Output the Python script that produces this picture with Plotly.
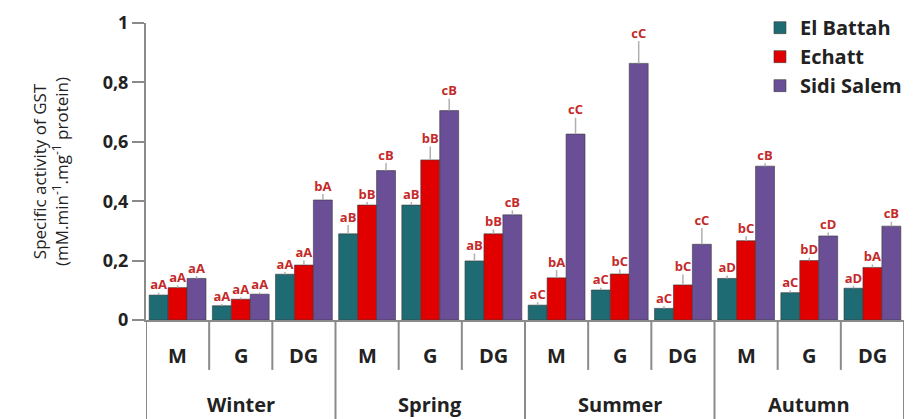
import plotly.graph_objects as go

seasons = ["Winter", "Spring", "Summer", "Autumn"]
tissues = ["M", "G", "DG"]

el_battah = [0.084, 0.048, 0.154, 0.290, 0.387, 0.199, 0.050, 0.101, 0.039, 0.140, 0.092, 0.107]
echatt = [0.109, 0.070, 0.185, 0.387, 0.539, 0.290, 0.142, 0.155, 0.118, 0.267, 0.200, 0.177]
sidi_salem = [0.140, 0.087, 0.404, 0.503, 0.705, 0.354, 0.626, 0.864, 0.255, 0.518, 0.283, 0.316]

err_el_battah = [0.008, 0.006, 0.008, 0.030, 0.010, 0.025, 0.010, 0.008, 0.008, 0.010, 0.008, 0.008]
err_echatt = [0.008, 0.006, 0.015, 0.010, 0.045, 0.015, 0.026, 0.015, 0.035, 0.015, 0.010, 0.010]
err_sidi_salem = [0.008, 0.006, 0.020, 0.026, 0.040, 0.015, 0.055, 0.075, 0.055, 0.010, 0.012, 0.015]

let_el_battah = ["aA", "aA", "aA", "aB", "aB", "aB", "aC", "aC", "aC", "aD", "aC", "aD"]
let_echatt = ["aA", "aA", "aA", "bB", "bB", "bB", "bA", "bC", "bC", "bC", "bD", "bA"]
let_sidi_salem = ["aA", "aA", "bA", "cB", "cB", "cB", "cC", "cC", "cC", "cB", "cD", "cB"]

series = [
    ("El Battah", el_battah, err_el_battah, let_el_battah, "#1f6b74"),
    ("Echatt", echatt, err_echatt, let_echatt, "#e00000"),
    ("Sidi Salem", sidi_salem, err_sidi_salem, let_sidi_salem, "#6a4f96"),
]

n = len(seasons) * len(tissues)
xs = list(range(n))
bargap = 0.1
bw = (1 - bargap) / len(series)

FONT = "Open Sans"
LINE = "#8a8a8a"
TXT = "#222222"

fig = go.Figure()
for k, (name, vals, errs, lets, col) in enumerate(series):
    fig.add_trace(go.Bar(
        x=xs, y=vals, name=name, legendgroup=name,
        marker=dict(color=col, line=dict(color="#3a3a3a", width=0.6)),
        error_y=dict(type="data", array=errs, arrayminus=[0] * n, symmetric=False,
                     color="#b0b0b0", thickness=1.5, width=0),
    ))
for k, (name, vals, errs, lets, col) in enumerate(series):
    off = (k - (len(series) - 1) / 2) * bw
    fig.add_trace(go.Scatter(
        x=[x + off for x in xs], y=[v + e for v, e in zip(vals, errs)],
        mode="text", text=lets, textposition="top center",
        textfont=dict(family=FONT, size=13, color="#c42a2a", weight="bold"),
        showlegend=False, hoverinfo="skip", cliponaxis=False,
    ))

shapes = []
annotations = []
ns = len(tissues)
for si, s in enumerate(seasons):
    annotations.append(dict(x=si * ns + (ns - 1) / 2, y=-0.286, xref="x", yref="paper",
                            text=s, showarrow=False, yanchor="middle", xanchor="center",
                            font=dict(family=FONT, size=20, color=TXT, weight="bold")))
    for ti, t in enumerate(tissues):
        idx = si * ns + ti
        annotations.append(dict(x=idx, y=-0.118, xref="x", yref="paper", text=t,
                                showarrow=False, yanchor="middle", xanchor="center",
                                font=dict(family=FONT, size=20, color=TXT, weight="bold")))
for b in range(n + 1):
    xb = b - 0.5
    full = (b % ns == 0)
    shapes.append(dict(type="line", xref="x", yref="paper", x0=xb, x1=xb,
                       y0=0, y1=-0.34 if full else -0.168,
                       line=dict(color=LINE, width=2)))

fig.update_layout(
    width=915, height=419,
    margin=dict(l=146, r=8, t=23, b=99),
    paper_bgcolor="white", plot_bgcolor="white",
    barmode="group", bargap=bargap, bargroupgap=0,
    separators=", ",
    showlegend=True,
    legend=dict(x=0.81, y=1.05, xanchor="left", yanchor="top",
                font=dict(family=FONT, size=20, color=TXT, weight="bold"),
                tracegroupgap=0, itemwidth=30, bgcolor="rgba(0,0,0,0)"),
    shapes=shapes, annotations=annotations,
    xaxis=dict(range=[-0.5, n - 0.5], showticklabels=False, ticks="", showgrid=False,
               zeroline=False, showline=True, linecolor=LINE, linewidth=2),
    yaxis=dict(range=[0, 1], tickvals=[0, 0.2, 0.4, 0.6, 0.8, 1], showgrid=False,
               zeroline=False, showline=True, linecolor=LINE, linewidth=2,
               ticks="outside", ticklen=12, tickcolor=LINE, tickwidth=1.5,
               tickfont=dict(family=FONT, size=18, color=TXT, weight="bold"),
               title=dict(text="Specific activity of GST<br>(mM.min<sup>-1</sup>.mg<sup>-1</sup> protein)",
                          font=dict(family=FONT, size=17, color=TXT), standoff=30)),
)

fig.write_html("out.html", post_script="document.body.style.margin='0';",
               config={"displayModeBar": False})
